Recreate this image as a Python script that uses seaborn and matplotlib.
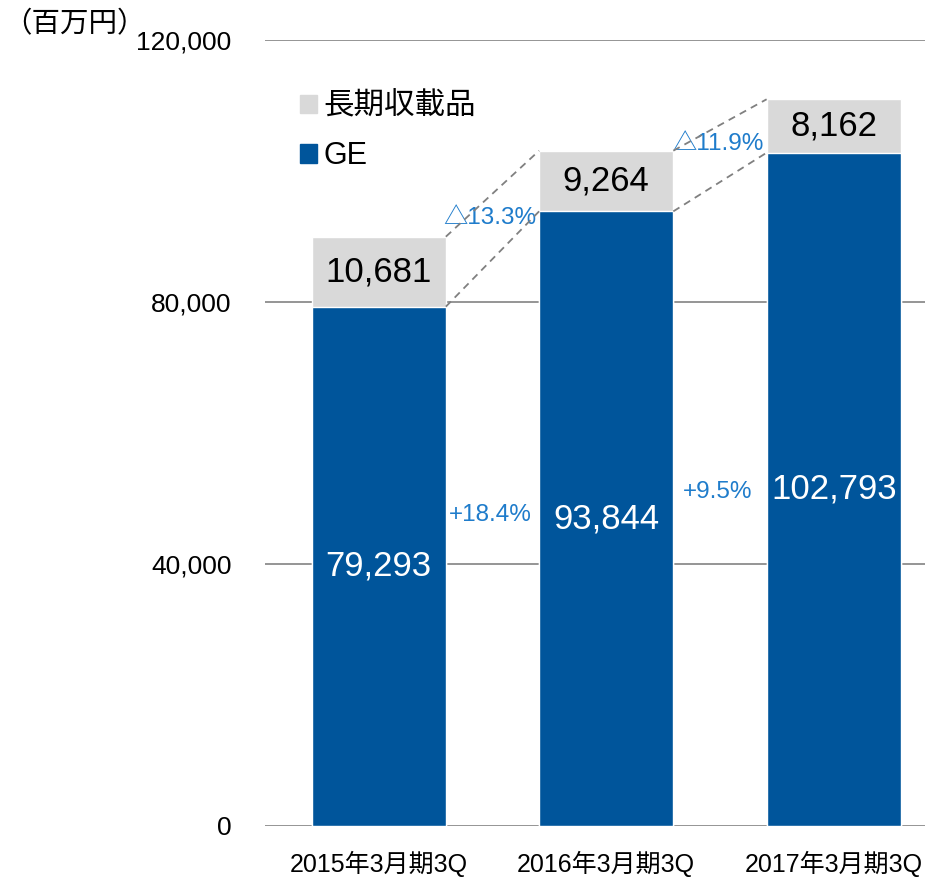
import matplotlib
matplotlib.use("Agg")
import matplotlib.pyplot as plt
from matplotlib.patches import Patch
import seaborn as sns
import pandas as pd

periods = ["2015年3月期3Q", "2016年3月期3Q", "2017年3月期3Q"]
ge = [79293, 93844, 102793]
long_listed = [10681, 9264, 8162]
ge_growth = ["+18.4%", "+9.5%"]
ll_growth = ["△13.3%", "△11.9%"]

BLUE = "#00559B"
GRAY = "#D9D9D9"
PCT = "#1F7CCB"
W = 0.59

sns.set_theme(style="white")
plt.rcParams["font.family"] = ["Liberation Sans", "Noto Sans CJK JP", "DejaVu Sans"]
plt.rcParams["text.color"] = "black"
plt.rcParams["xtick.color"] = "black"
plt.rcParams["ytick.color"] = "black"

df = pd.DataFrame({"period": periods, "ge": ge, "ll": long_listed})
df["total"] = df["ge"] + df["ll"]

fig = plt.figure(figsize=(9.35, 8.8), dpi=100)
ax = fig.add_axes([0.2834, 0.0614, 0.7056, 0.8931])

sns.barplot(data=df, x="period", y="total", color=GRAY, width=W,
            saturation=1, ax=ax, zorder=2)
sns.barplot(data=df, x="period", y="ge", color=BLUE, width=W,
            saturation=1, ax=ax, zorder=3)

ax.set_xlim(-0.5, 2.4)
ax.set_ylim(0, 120000)
ax.set_yticks([0, 40000, 80000, 120000])
ax.set_yticklabels([f"{v:,}" for v in [0, 40000, 80000, 120000]], fontsize=19)
ax.tick_params(axis="y", length=0, pad=24)
ax.tick_params(axis="x", length=0, pad=18, labelsize=18)
ax.set_xlabel("")
ax.set_ylabel("")
ax.grid(axis="y", color="#8C8C8C", linewidth=1.3, zorder=0)
ax.set_axisbelow(True)
for s in ax.spines.values():
    s.set_visible(False)

# values inside bars
for i, row in df.iterrows():
    ax.text(i, row["ge"] / 2, f"{row['ge']:,}", ha="center", va="center",
            color="white", fontsize=25, zorder=5)
    ax.text(i, row["ge"] + row["ll"] / 2, f"{row['ll']:,}", ha="center",
            va="center", color="black", fontsize=25, zorder=5)

# dashed connectors and growth labels
ge_label_y = [47500, 51000]
ll_label_y = [92800, 104100]
for i in range(len(df) - 1):
    x0, x1 = i + W / 2, i + 1 - W / 2
    ax.plot([x0, x1], [df["ge"][i], df["ge"][i + 1]], ls=(0, (4, 3)),
            color="#808080", lw=1.3, zorder=4)
    ax.plot([x0, x1], [df["total"][i], df["total"][i + 1]], ls=(0, (4, 3)),
            color="#808080", lw=1.3, zorder=4)
    xm = i + 0.49
    ax.text(xm, ge_label_y[i], ge_growth[i], ha="center", va="center",
            color=PCT, fontsize=17.5)
    ax.text(xm, ll_label_y[i], ll_growth[i], ha="center", va="center",
            color=PCT, fontsize=17.5)

handles = [Patch(color=GRAY, label="長期収載品"), Patch(color=BLUE, label="GE")]
ax.legend(handles=handles, loc="upper left", bbox_to_anchor=(0.035, 0.95),
          frameon=False, fontsize=22, handlelength=0.55, handleheight=0.55,
          handletextpad=0.2, labelspacing=0.65, borderaxespad=0)

fig.text(0.003, 0.972, "（百万円）", fontsize=20.5, ha="left", va="center")

fig.savefig("out.png", dpi=100)
